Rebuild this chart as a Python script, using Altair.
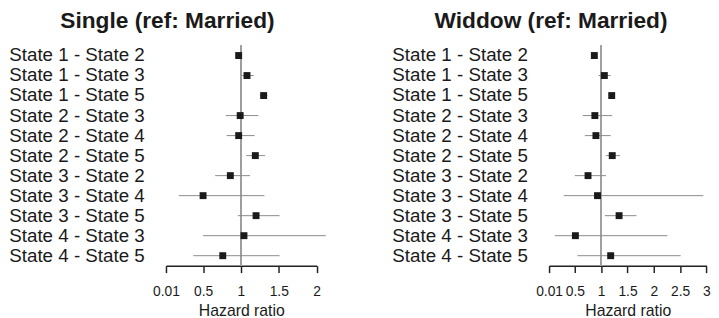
import altair as alt
import pandas as pd

transitions = [
    "State 1 - State 2", "State 1 - State 3", "State 1 - State 5",
    "State 2 - State 3", "State 2 - State 4", "State 2 - State 5",
    "State 3 - State 2", "State 3 - State 4", "State 3 - State 5",
    "State 4 - State 3", "State 4 - State 5",
]

single_est = [0.97, 1.08, 1.30, 0.99, 0.97, 1.19, 0.86, 0.50, 1.20, 1.04, 0.76]
single_lo = [0.94, 1.01, 1.25, 0.80, 0.81, 1.07, 0.66, 0.18, 0.96, 0.50, 0.37]
single_hi = [1.00, 1.17, 1.35, 1.23, 1.18, 1.32, 1.12, 1.31, 1.51, 2.12, 1.51]

widow_est = [0.87, 1.06, 1.20, 0.88, 0.90, 1.21, 0.75, 0.93, 1.34, 0.51, 1.18]
widow_lo = [0.82, 0.95, 1.15, 0.65, 0.69, 1.09, 0.50, 0.29, 1.07, 0.12, 0.55]
widow_hi = [0.92, 1.18, 1.25, 1.21, 1.18, 1.36, 1.09, 2.94, 1.67, 2.26, 2.51]

single_ticks = [0.01, 0.5, 1, 1.5, 2]
widow_ticks = [0.01, 0.5, 1, 1.5, 2, 2.5, 3]

TEXT = "#1a1a1a"


def panel(title, est, lo, hi, ticks, width):
    df = pd.DataFrame({"transition": transitions, "est": est, "lo": lo, "hi": hi})
    x_scale = alt.Scale(domain=[ticks[0], ticks[-1]], nice=False, zero=False)
    y_enc = alt.Y(
        "transition:N",
        sort=transitions,
        scale=alt.Scale(paddingInner=0, paddingOuter=0),
        axis=alt.Axis(
            title=None, labelFontSize=19, labelPadding=22, ticks=False,
            domain=False, labelColor=TEXT, labelLimit=300,
        ),
    )
    x_axis = alt.Axis(
        values=ticks, format="~g", title="Hazard ratio", grid=False,
        tickSize=7, tickWidth=1.5, tickColor="#222", domainColor="#222",
        domainWidth=1.5, labelFontSize=14, labelPadding=12, labelColor=TEXT,
        titleFontSize=16, titleFontWeight="normal", titlePadding=4.5,
        titleColor=TEXT, labelFlush=False,
    )
    ref = alt.Chart(df).mark_rule(color="#a0a0a0", strokeWidth=1).encode(
        x=alt.datum(1, scale=x_scale, axis=x_axis)
    )
    ci = alt.Chart(df).mark_rule(color="#8a8a8a", strokeWidth=1).encode(
        x=alt.X("lo:Q", scale=x_scale, axis=x_axis), x2="hi:Q", y=y_enc
    )
    pts = alt.Chart(df).mark_square(size=49, color=TEXT, opacity=1).encode(
        x=alt.X("est:Q", scale=x_scale, axis=x_axis), y=y_enc
    )
    return alt.layer(ref, ci, pts).properties(
        width=width,
        height=223,
        title=alt.TitleParams(
            title, fontSize=23, fontWeight="bold", frame="bounds",
            anchor="middle", offset=12, color=TEXT,
        ),
    )


left = panel("Single (ref: Married)", single_est, single_lo, single_hi, single_ticks, 152.6)
right = panel("Widdow (ref: Married)", widow_est, widow_lo, widow_hi, widow_ticks, 159.4)

chart = (
    alt.hconcat(left, right, spacing=65)
    .properties(padding=0)
    .configure(font="Liberation Sans")
    .configure_view(stroke=None)
)

chart.save("out.html", embed_options={"renderer": "svg", "actions": False})
